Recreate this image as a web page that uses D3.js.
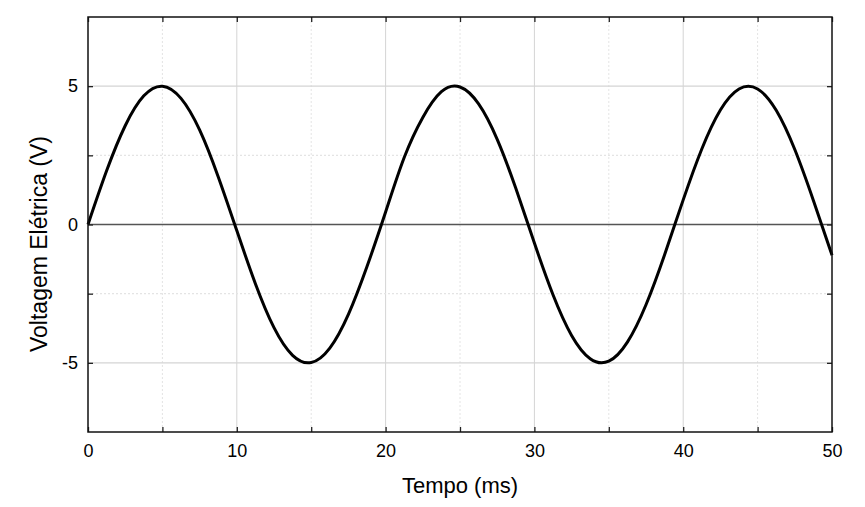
<!DOCTYPE html>
<html>
<head>
<meta charset="utf-8">
<script src="https://cdn.jsdelivr.net/npm/d3@7"></script>
<style>
  body { margin: 0; background: #fff; }
  text { font-family: "Liberation Sans", Arial, sans-serif; fill: #000; }
</style>
</head>
<body>
<svg id="SVG_CONTAINER" width="865" height="507"></svg>
<script>
// time samples (ms) and voltage (V)
const tempo = [0, 1.25, 2.5, 3.75, 5, 6.25, 7.5, 8.75, 10, 11.25, 12.5, 13.75, 15, 16.25, 17.5, 18.75,
  20, 21.25, 22.5, 23.75, 25, 26.25, 27.5, 28.75, 30, 31.25, 32.5, 33.75, 35, 36.25, 37.5, 38.75,
  40, 41.25, 42.5, 43.75, 45, 46.25, 47.5, 48.75, 50];
const voltagem = [0, 1.94, 3.57, 4.65, 5.0, 4.56, 3.42, 1.73, -0.22, -2.14, -3.73, -4.73, -4.99, -4.47, -3.25, -1.52,
  0.45, 2.42, 3.87, 4.8, 4.97, 4.36, 3.08, 1.31, -0.67, -2.54, -4.01, -4.85, -4.94, -4.25, -2.9, -1.09,
  0.89, 2.73, 4.14, 4.9, 4.9, 4.13, 2.71, 0.87, -1.11];

const xTicks = [0, 5, 10, 15, 20, 25, 30, 35, 40, 45, 50];
const xLabels = [0, 10, 20, 30, 40, 50];
const yTicks = [-7.5, -5, -2.5, 0, 2.5, 5, 7.5];
const yLabels = [-5, 0, 5];

const MARGIN = { LEFT: 88, RIGHT: 33, TOP: 17, BOTTOM: 75 };
const width = 865, height = 507;

const svg = d3.select("#SVG_CONTAINER");

const xScale = d3.scaleLinear().domain([0, 50]).range([MARGIN.LEFT, width - MARGIN.RIGHT]);
const yScale = d3.scaleLinear().domain([-7.5, 7.5]).range([height - MARGIN.BOTTOM, MARGIN.TOP]);

// grid
const grid = svg.append("g");
grid.selectAll(".vgrid")
  .data(xTicks.filter(d => d > 0 && d < 50))
  .enter().append("line")
  .attr("x1", d => xScale(d)).attr("x2", d => xScale(d))
  .attr("y1", yScale(7.5)).attr("y2", yScale(-7.5))
  .attr("stroke", d => d % 10 === 0 ? "#d4d4d4" : "#e4e4e4")
  .attr("stroke-dasharray", d => d % 10 === 0 ? null : "2,2")
  .attr("stroke-width", 1);
grid.selectAll(".hgrid")
  .data(yTicks.filter(d => d !== 0 && Math.abs(d) < 7.5))
  .enter().append("line")
  .attr("x1", xScale(0)).attr("x2", xScale(50))
  .attr("y1", d => yScale(d)).attr("y2", d => yScale(d))
  .attr("stroke", d => d % 5 === 0 ? "#d4d4d4" : "#e4e4e4")
  .attr("stroke-dasharray", d => d % 5 === 0 ? null : "2,2")
  .attr("stroke-width", 1.2);

// zero line
svg.append("line")
  .attr("x1", xScale(0)).attr("x2", xScale(50))
  .attr("y1", yScale(0)).attr("y2", yScale(0))
  .attr("stroke", "#555").attr("stroke-width", 1.5);

// axes with inward ticks on all four sides
const fmt = d => (xLabels.includes(d) ? d : "");
svg.append("g")
  .attr("transform", "translate(0," + (height - MARGIN.BOTTOM) + ")")
  .call(d3.axisBottom(xScale).tickValues(xTicks).tickSize(-5).tickPadding(12).tickFormat(fmt))
  .call(g => g.selectAll("text").style("font-size", "18px"));
svg.append("g")
  .attr("transform", "translate(0," + MARGIN.TOP + ")")
  .call(d3.axisTop(xScale).tickValues(xTicks).tickSize(-5).tickFormat(""));
svg.append("g")
  .attr("transform", "translate(" + MARGIN.LEFT + ",0)")
  .call(d3.axisLeft(yScale).tickValues(yTicks.filter(d => Math.abs(d) < 7.5)).tickSize(-5).tickPadding(10)
    .tickFormat(d => (yLabels.includes(d) ? d : "")))
  .call(g => g.selectAll("text").style("font-size", "18px"));
svg.append("g")
  .attr("transform", "translate(" + (width - MARGIN.RIGHT) + ",0)")
  .call(d3.axisRight(yScale).tickValues(yTicks.filter(d => Math.abs(d) < 7.5)).tickSize(-5).tickFormat(""));
svg.selectAll(".domain").remove();
svg.selectAll(".tick line").attr("stroke", "#222").attr("stroke-width", 1.3);

// signal
const line = d3.line()
  .x((d, i) => xScale(tempo[i]))
  .y(d => yScale(d))
  .curve(d3.curveNatural);
svg.append("path")
  .datum(voltagem)
  .attr("d", line)
  .attr("fill", "none")
  .attr("stroke", "#000")
  .attr("stroke-width", 3);

// frame
svg.append("rect")
  .attr("x", MARGIN.LEFT).attr("y", MARGIN.TOP)
  .attr("width", width - MARGIN.LEFT - MARGIN.RIGHT)
  .attr("height", height - MARGIN.TOP - MARGIN.BOTTOM)
  .attr("fill", "none").attr("stroke", "#111").attr("stroke-width", 1.5);

// axis titles
svg.append("text")
  .attr("x", (MARGIN.LEFT + width - MARGIN.RIGHT) / 2)
  .attr("y", 493)
  .attr("text-anchor", "middle")
  .style("font-size", "22px")
  .text("Tempo (ms)");
svg.append("text")
  .attr("transform", "translate(47," + 244 + ") rotate(-90)")
  .attr("text-anchor", "middle")
  .style("font-size", "23px")
  .text("Voltagem Elétrica (V)");
</script>
</body>
</html>
